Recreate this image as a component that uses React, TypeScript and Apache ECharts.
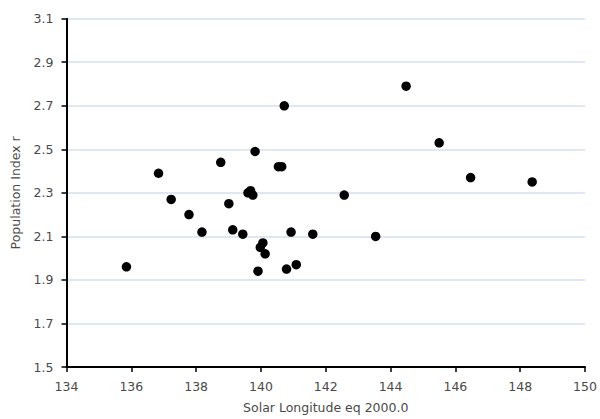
import React, { useEffect, useRef } from "react";
import * as echarts from "echarts";

const solarLongitude: number[] = [
  135.85, 136.84, 137.23, 137.78, 138.18, 138.76, 139.01, 139.13, 139.44, 139.6,
  139.68, 139.75, 139.82, 139.91, 139.98, 140.06, 140.13, 140.54, 140.64, 140.72,
  140.79, 140.93, 141.09, 141.6, 142.57, 143.54, 144.48, 145.5, 146.47, 148.37,
];
const populationIndex: number[] = [
  1.96, 2.39, 2.27, 2.2, 2.12, 2.44, 2.25, 2.13, 2.11, 2.3,
  2.31, 2.29, 2.49, 1.94, 2.05, 2.07, 2.02, 2.42, 2.42, 2.7,
  1.95, 2.12, 1.97, 2.11, 2.29, 2.1, 2.79, 2.53, 2.37, 2.35,
];

const xName = "Solar Longitude eq 2000.0";
const yName = "Population Index r";

export default function App() {
  const ref = useRef<HTMLDivElement>(null);
  useEffect(() => {
    if (!ref.current) return;
    const chart = echarts.init(ref.current, undefined, { renderer: "svg" });
    const data = solarLongitude.map((x, i) => [x, populationIndex[i]]);
    const font = "'DejaVu Sans', Verdana, sans-serif";
    chart.setOption({
      animation: false,
      grid: { left: 66.5, right: 15, top: 18.7, bottom: 50.7, containLabel: false },
      xAxis: {
        type: "value",
        min: 134,
        max: 150,
        interval: 2,
        name: xName,
        nameLocation: "middle",
        nameGap: 34,
        nameTextStyle: { color: "#4a4a4a", fontSize: 12.5, fontFamily: font },
        axisLine: { show: true, onZero: false, lineStyle: { color: "#000", width: 2 } },
        axisTick: { show: true, length: 5, lineStyle: { color: "#000", width: 1.5 } },
        axisLabel: { color: "#4a4a4a", fontSize: 12.5, fontFamily: font, margin: 13 },
        splitLine: { show: false },
      },
      yAxis: {
        type: "value",
        min: 1.5,
        max: 3.1,
        interval: 0.2,
        name: yName,
        nameLocation: "middle",
        nameGap: 45,
        nameTextStyle: { color: "#4a4a4a", fontSize: 12.5, fontFamily: font },
        axisLine: { show: true, onZero: false, lineStyle: { color: "#000", width: 2 } },
        axisTick: { show: true, length: 5, lineStyle: { color: "#000", width: 1.5 } },
        axisLabel: {
          color: "#4a4a4a",
          fontSize: 12.5,
          fontFamily: font,
          margin: 13,
          formatter: (v: number) => v.toFixed(1),
        },
        splitLine: { show: true, lineStyle: { color: "#d6dff0", width: 1.5 } },
      },
      series: [
        {
          type: "scatter",
          data,
          symbol: "circle",
          symbolSize: 9.5,
          itemStyle: { color: "#000", opacity: 1 },
        },
      ],
    });
    return () => chart.dispose();
  }, []);
  return (
    <div
      ref={ref}
      style={{ position: "fixed", left: 0, top: 0, width: 600, height: 419, background: "#fff" }}
    />
  );
}
